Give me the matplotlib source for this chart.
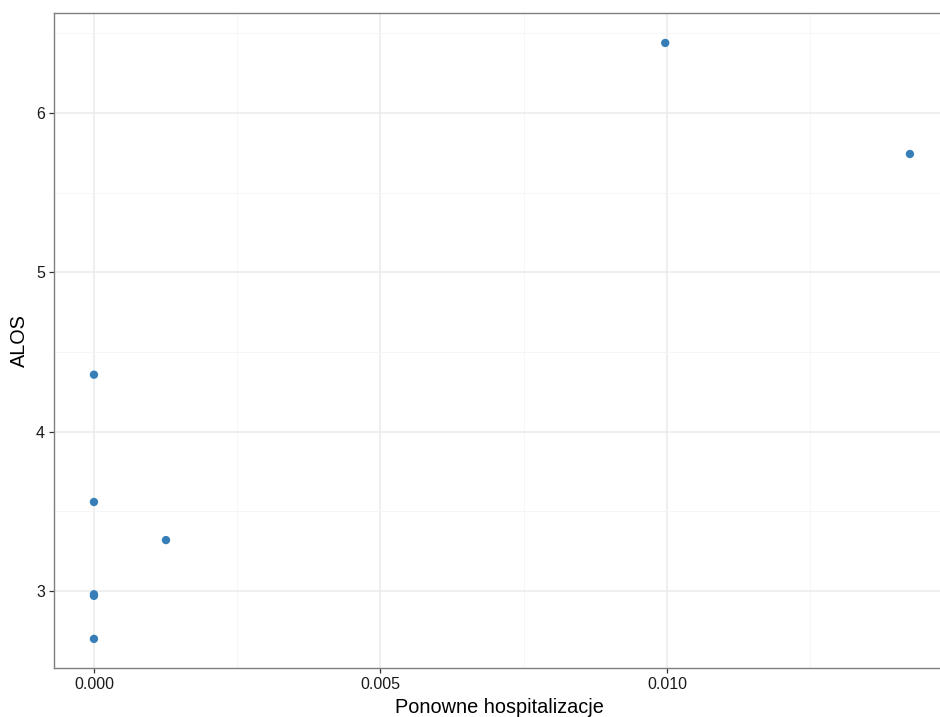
import matplotlib
matplotlib.use("Agg")
import matplotlib.pyplot as plt
from matplotlib.ticker import MultipleLocator

plt.rcParams["font.family"] = ["Liberation Sans", "DejaVu Sans"]

readmissions = [0.00997, 0.01424, 0.0, 0.0, 0.001257, 0.0, 0.0, 0.0]
alos = [6.44, 5.743, 4.358, 3.559, 3.32, 2.98, 2.97, 2.70]

x_ticks = [0.0, 0.005, 0.010]
x_ticklabels = ["0.000", "0.005", "0.010"]
y_ticks = [3, 4, 5, 6]

fig = plt.figure(figsize=(9.4, 7.17), dpi=100)
ax = fig.add_axes([0.0574, 0.0683, 0.9479, 0.9136])

ax.scatter(readmissions, alos, s=36, color="#377EB8", edgecolors="none", zorder=3)

ax.set_xlim(-0.000698, 0.014852)
ax.set_ylim(2.517, 6.628)
ax.set_xticks(x_ticks)
ax.set_xticklabels(x_ticklabels)
ax.set_yticks(y_ticks)
ax.xaxis.set_minor_locator(MultipleLocator(0.0025))
ax.yaxis.set_minor_locator(MultipleLocator(0.5))

ax.grid(True, which="major", color="#ebebeb", linewidth=1.1)
ax.grid(True, which="minor", color="#f5f5f5", linewidth=0.6)
ax.set_axisbelow(True)

for side in ax.spines.values():
    side.set_color("#7f7f7f")
    side.set_linewidth(1.0)

ax.tick_params(axis="both", which="major", labelsize=11.5, colors="#333333",
               length=3.5, width=0.9, labelcolor="#1a1a1a", pad=3)
ax.tick_params(axis="both", which="minor", length=0)

ax.set_xlabel("Ponowne hospitalizacje", fontsize=14.3, labelpad=4)
ax.set_ylabel("ALOS", fontsize=14.3, labelpad=5)

fig.savefig("out.png", dpi=100)
